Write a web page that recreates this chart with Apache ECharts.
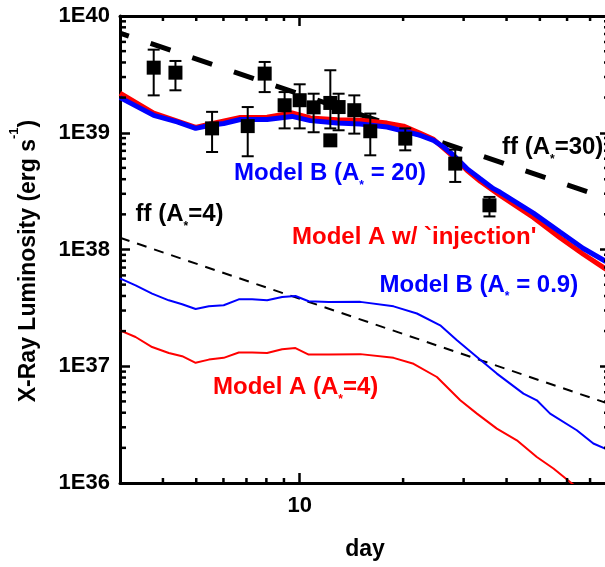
<!DOCTYPE html>
<html>
<head>
<meta charset="utf-8">
<script src="https://cdn.jsdelivr.net/npm/echarts/dist/echarts.min.js"></script>
<style>
html,body{margin:0;padding:0;background:#fff;}
#chart{width:605px;height:567px;}
</style>
</head>
<body>
<div id="chart"></div>
<script>
// ---------------- data ----------------
const X_MIN = 3, X_MAX = 80;
const Y_MIN = 1e36, Y_MAX = 1e40;

// observed points: day, luminosity, lower and upper error
const obsDay  = [3.76, 4.35, 5.56, 7.06, 7.91, 9.04, 10.0, 10.98, 12.28, 12.28, 12.98, 14.42, 16.05, 20.29, 28.36, 35.67];
const obsLum  = [3.61e39, 3.27e39, 1.09e39, 1.14e39, 3.21e39, 1.72e39, 1.90e39, 1.65e39, 1.80e39, 8.61e38, 1.66e39, 1.56e39, 1.03e39, 8.91e38, 5.44e38, 2.39e38];
const obsLow  = [2.09e39, 2.31e39, 6.84e38, 6.29e38, 2.23e39, 1.09e39, 1.09e39, 1.01e39, 1.09e39, 8.61e38, 1.05e39, 9.83e38, 6.41e38, 7.07e38, 3.79e38, 1.92e38];
const obsHigh = [5.15e39, 4.12e39, 1.51e39, 1.66e39, 4.04e39, 2.23e39, 2.60e39, 2.16e39, 3.43e39, 8.61e38, 2.16e39, 2.09e39, 1.46e39, 1.09e39, 7.17e38, 2.82e38];

// Model B (A* = 20), thick blue
const modelB20 = [[3.0,2.00e39],[3.76,1.41e39],[4.40,1.24e39],[4.98,1.09e39],[5.50,1.16e39],[6.01,1.20e39],[6.72,1.30e39],[8.04,1.30e39],[9.50,1.38e39],[10.74,1.27e39],[12.84,1.21e39],[15.01,1.19e39],[17.95,1.12e39],[19.62,1.05e39],[22.43,9.51e38],[24.52,8.61e38],[26.22,7.55e38],[28.04,6.41e38],[30.67,4.93e38],[33.53,4.03e38],[36.64,3.32e38],[38.32,3.09e38],[40.98,2.73e38],[47.88,2.05e38],[57.26,1.41e38],[66.92,1.02e38],[77.41,7.97e37],[80,7.62e37]];
// Model A w/ injection, thick red
const modelAinj = [[3.0,2.18e39],[3.76,1.47e39],[4.98,1.11e39],[5.50,1.19e39],[6.72,1.35e39],[8.04,1.36e39],[9.50,1.48e39],[10.74,1.34e39],[12.84,1.29e39],[15.01,1.28e39],[17.95,1.21e39],[20.06,1.14e39],[22.43,9.89e38],[24.52,8.79e38],[28.04,6.22e38],[30.67,4.77e38],[33.53,3.84e38],[38.32,2.91e38],[47.88,1.88e38],[57.26,1.26e38],[66.92,9.10e37],[77.41,6.86e37],[80,6.50e37]];
// Model B (A* = 0.9), thin blue
const modelB09 = [[3.0,5.66e37],[3.33,4.93e37],[3.72,4.19e37],[4.16,3.67e37],[4.55,3.40e37],[4.98,3.09e37],[5.44,3.26e37],[6.01,3.33e37],[6.65,3.74e37],[7.27,3.74e37],[8.04,3.67e37],[8.89,3.92e37],[9.72,4.00e37],[10.62,3.60e37],[12.14,3.55e37],[15.01,3.56e37],[18.76,3.26e37],[21.94,2.83e37],[25.64,2.24e37],[28.69,1.67e37],[32.80,1.20e37],[37.48,8.65e36],[44.79,5.83e36],[48.99,5.11e36],[53.56,3.93e36],[64.03,2.83e36],[71.55,2.18e36],[77.41,1.97e36],[80,1.91e36]];
// Model A (A* = 4), thin red
const modelA4 = [[3.0,2.03e37],[3.33,1.78e37],[3.72,1.46e37],[4.16,1.30e37],[4.55,1.22e37],[4.98,1.07e37],[5.44,1.14e37],[6.01,1.18e37],[6.65,1.31e37],[7.27,1.31e37],[8.04,1.30e37],[8.89,1.40e37],[9.72,1.43e37],[10.62,1.26e37],[12.14,1.26e37],[15.01,1.27e37],[18.76,1.18e37],[21.45,1.05e37],[25.08,8.09e36],[29.33,5.11e36],[32.80,3.93e36],[37.48,2.92e36],[42.85,2.32e36],[48.99,1.67e36],[54.76,1.33e36],[61.22,1.02e36],[70.0,7.5e35]];
// free-free lines
const ffA30 = [[3, 7.14e39], [80, 2.68e38]];
const ffA4  = [[3, 1.26e38], [80, 4.73e36]];

// tick values
const xMajorLabels = [10];
const xMinorTicks = [4, 5, 6, 7, 8, 9, 20, 30, 40, 50, 60, 70];
const yMinorMantissa = [2, 3, 4, 5, 6, 7, 8, 9];
const yDecades = [36, 37, 38, 39];

// ---------------- chart ----------------
const FONT = '"Liberation Sans", Arial, Helvetica, sans-serif';
const chart = echarts.init(document.getElementById('chart'), null, {renderer: 'canvas'});

const yMinorTicks = [];
yDecades.forEach(d => yMinorMantissa.forEach(m => yMinorTicks.push(m * Math.pow(10, d))));
const tickData = xMinorTicks.map(t => [t, Y_MIN, 0]).concat(yMinorTicks.map(v => [X_MIN, v, 1]));

const axisLineStyle = {color: '#000', width: 3};
const tickStyle = {color: '#000', width: 2.5};

function minorTicks(params, api) {
  const kind = api.value(2);
  const st = {stroke: '#000', lineWidth: 2.5};
  if (kind === 0) {
    const t = api.value(0);
    const b = api.coord([t, Y_MIN]);
    const tp = api.coord([t, Y_MAX]);
    return {type: 'group', children: [
      {type: 'line', shape: {x1: b[0], y1: b[1], x2: b[0], y2: b[1] - 5}, style: st},
      {type: 'line', shape: {x1: tp[0], y1: tp[1], x2: tp[0], y2: tp[1] + 5}, style: st}
    ]};
  }
  const v = api.value(1);
  const l = api.coord([X_MIN, v]);
  const r = api.coord([X_MAX, v]);
  return {type: 'group', children: [
    {type: 'line', shape: {x1: l[0], y1: l[1], x2: l[0] + 6, y2: l[1]}, style: st},
    {type: 'line', shape: {x1: r[0], y1: r[1], x2: r[0] - 6, y2: r[1]}, style: st}
  ]};
}

function errorBars(params, api) {
  const t = api.value(0);
  const lo = api.coord([t, api.value(1)]);
  const hi = api.coord([t, api.value(2)]);
  const hw = 6;
  const st = {stroke: '#000', lineWidth: 2};
  return {type: 'group', children: [
    {type: 'line', shape: {x1: lo[0], y1: lo[1], x2: hi[0], y2: hi[1]}, style: st},
    {type: 'line', shape: {x1: lo[0] - hw, y1: lo[1], x2: lo[0] + hw, y2: lo[1]}, style: st},
    {type: 'line', shape: {x1: hi[0] - hw, y1: hi[1], x2: hi[0] + hw, y2: hi[1]}, style: st}
  ]};
}

function label(text, x, y, color) {
  return {
    type: 'text', x: x, y: y, z: 100,
    style: {
      text: text, fill: color, fontSize: 24, fontWeight: 'bold', fontFamily: FONT,
      align: 'left', verticalAlign: 'middle',
      rich: {s: {fontSize: 12, fontWeight: 'bold', fontFamily: FONT, fill: color, lineHeight: 36, verticalAlign: 'bottom'}}
    }
  };
}

const option = {
  animation: false,
  backgroundColor: '#fff',
  grid: {left: 120, top: 16, width: 490, height: 467, containLabel: false, outerBoundsMode: 'none'},
  xAxis: [{
    type: 'log', logBase: 10, min: X_MIN, max: X_MAX, position: 'bottom',
    axisLine: {onZero: false, lineStyle: axisLineStyle},
    axisTick: {inside: true, length: 10, lineStyle: tickStyle},
    splitLine: {show: false},
    axisLabel: {
      margin: 12, color: '#000', fontSize: 22, fontWeight: 'bold', fontFamily: FONT,
      showMinLabel: false, showMaxLabel: false,
      formatter: v => xMajorLabels.some(m => Math.abs(m - v) < 1e-6) ? String(Math.round(v)) : ''
    },
    name: 'day', nameLocation: 'middle', nameGap: 55,
    nameTextStyle: {color: '#000', fontSize: 23, fontWeight: 'bold', fontFamily: FONT}
  }, {
    type: 'log', logBase: 10, min: X_MIN, max: X_MAX, position: 'top',
    axisLine: {onZero: false, lineStyle: axisLineStyle},
    axisTick: {inside: true, length: 10, lineStyle: tickStyle},
    splitLine: {show: false}, axisLabel: {show: false}
  }],
  yAxis: [{
    type: 'log', logBase: 10, min: Y_MIN, max: Y_MAX, position: 'left',
    axisLine: {onZero: false, lineStyle: axisLineStyle},
    axisTick: {inside: true, length: 10, lineStyle: tickStyle},
    splitLine: {show: false},
    axisLabel: {
      margin: 10, color: '#000', fontSize: 22, fontWeight: 'bold', fontFamily: FONT,
      formatter: v => '1E' + Math.round(Math.log10(v))
    }
  }, {
    type: 'log', logBase: 10, min: Y_MIN, max: Y_MAX, position: 'right',
    axisLine: {onZero: false, lineStyle: axisLineStyle},
    axisTick: {inside: true, length: 10, lineStyle: tickStyle},
    splitLine: {show: false}, axisLabel: {show: false}
  }],
  series: [
    {type: 'line', name: 'ff A4', data: ffA4, showSymbol: false, symbol: 'none', z: 2,
     lineStyle: {color: '#000', width: 2, type: [10, 8]}},
    {type: 'line', name: 'Model A (A*=4)', data: modelA4, showSymbol: false, symbol: 'none', z: 3,
     lineStyle: {color: '#ff0000', width: 2}},
    {type: 'line', name: 'Model B (A*=0.9)', data: modelB09, showSymbol: false, symbol: 'none', z: 3,
     lineStyle: {color: '#0000ff', width: 2}},
    {type: 'line', name: 'ff A30', data: ffA30, showSymbol: false, symbol: 'none', z: 4,
     lineStyle: {color: '#000', width: 5, type: [21, 23], dashOffset: 11.7}},
    {type: 'line', name: 'Model A inj', data: modelAinj, showSymbol: false, symbol: 'none', z: 5,
     lineStyle: {color: '#ff0000', width: 5}},
    {type: 'line', name: 'Model B (A*=20)', data: modelB20, showSymbol: false, symbol: 'none', z: 6,
     lineStyle: {color: '#0000ff', width: 5}},
    {type: 'custom', name: 'errors', renderItem: errorBars, z: 7,
     encode: {x: 0, y: [1, 2]},
     data: obsDay.map((d, i) => [d, obsLow[i], obsHigh[i]])},
    {type: 'scatter', name: 'obs', symbol: 'rect', symbolSize: 14, z: 8,
     itemStyle: {color: '#000', opacity: 1}, emphasis: {disabled: true},
     data: obsDay.map((d, i) => [d, obsLum[i]])},
    {type: 'custom', name: 'minor ticks', renderItem: minorTicks, z: 9, silent: true,
     encode: {x: 0, y: 1}, data: tickData}
  ],
  graphic: [
    label('ff (A{s|*}=30)', 502, 147.7, '#000'),
    label('Model B (A{s|*} = 20)', 234, 173.4, '#0000ff'),
    label('ff (A{s|*}=4)', 135.5, 214.4, '#000'),
    label("Model A w/ `injection'", 292, 237.4, '#ff0000'),
    label('Model B (A{s|*} = 0.9)', 379.5, 285, '#0000ff'),
    label('Model A (A{s|*}=4)', 213, 387.2, '#ff0000'),
    {
      type: 'text', x: 29, y: 261, rotation: Math.PI / 2, z: 100,
      style: {
        text: 'X-Ray Luminosity (erg s{sup|-1})', fill: '#000',
        fontSize: 23, fontWeight: 'bold', fontFamily: FONT,
        align: 'center', verticalAlign: 'middle',
        rich: {sup: {fontSize: 13, fontWeight: 'bold', fontFamily: FONT, fill: '#000', lineHeight: 43, verticalAlign: 'top'}}
      }
    }
  ]
};
chart.setOption(option);
</script>
</body>
</html>
